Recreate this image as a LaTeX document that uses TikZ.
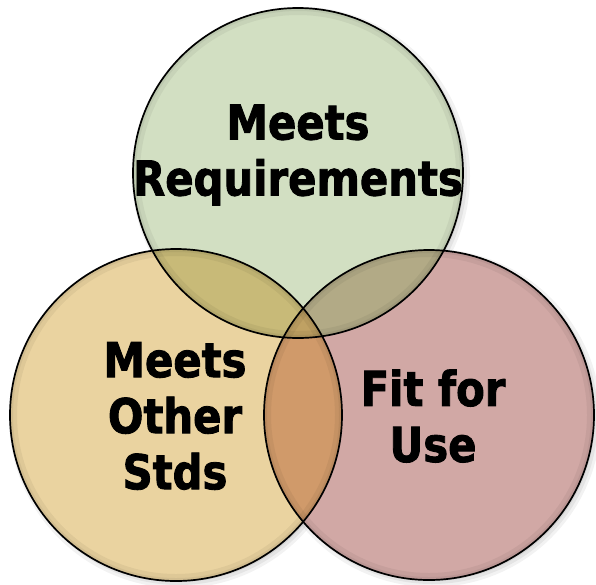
\documentclass[tikz,border=0pt]{standalone}
\usepackage{fontspec}
\newfontfamily\lblfont{DejaVu Sans Bold}[FakeStretch=0.87, FakeBold=1.8]
\definecolor{reqgreen}{HTML}{D2DFC2}
\definecolor{stdorange}{HTML}{EAD3A0}
\definecolor{userose}{HTML}{D1A8A5}
\definecolor{gomix}{HTML}{C8BA78}
\definecolor{grmix}{HTML}{B2AA86}
\definecolor{ormix}{HTML}{D09A6A}
\definecolor{allmix}{HTML}{BFA163}
\tikzset{
  x=1pt, y=-1pt,
  ring/.style={draw=black, line width=1.7pt},
  rim/.style={draw=black, opacity=0.05},
  label/.style={font=\lblfont\fontsize{48}{56}\selectfont,
    align=center, inner sep=0pt, text=black},
}
\begin{document}
\begin{tikzpicture}
  \useasboundingbox (0,0) rectangle (596,584);
  \coordinate (cT) at (298,173);
  \coordinate (cL) at (176,415);
  \coordinate (cR) at (429,415);
  \def\rT{165pt}\def\rL{166pt}\def\rR{165pt}

  % soft drop shadows
  \foreach \w/\o in {8/0.05,5/0.06,2/0.07}{
    \fill[black, opacity=\o] ([shift={(3,3)}]cT) circle[radius=\rT+\w pt-4pt];
    \fill[black, opacity=\o] ([shift={(3,3)}]cL) circle[radius=\rL+\w pt-4pt];
    \fill[black, opacity=\o] ([shift={(3,3)}]cR) circle[radius=\rR+\w pt-4pt];
  }

  % single regions
  \fill[reqgreen] (cT) circle[radius=\rT];
  \fill[stdorange] (cL) circle[radius=\rL];
  \fill[userose] (cR) circle[radius=\rR];

  % pairwise overlaps
  \begin{scope}
    \clip (cT) circle[radius=\rT];
    \fill[gomix] (cL) circle[radius=\rL];
    \fill[grmix] (cR) circle[radius=\rR];
  \end{scope}
  \begin{scope}
    \clip (cL) circle[radius=\rL];
    \fill[ormix] (cR) circle[radius=\rR];
    \clip (cR) circle[radius=\rR];
    \fill[allmix] (cT) circle[radius=\rT];
  \end{scope}

  % darker inner rims
  \foreach \c/\r in {cT/\rT,cL/\rL,cR/\rR}{
    \begin{scope}
      \clip (\c) circle[radius=\r];
      \draw[rim, line width=14pt] (\c) circle[radius=\r];
      \draw[rim, line width=6pt] (\c) circle[radius=\r];
    \end{scope}
  }

  % outlines
  \draw[ring] (cT) circle[radius=\rT];
  \draw[ring] (cL) circle[radius=\rL];
  \draw[ring] (cR) circle[radius=\rR];

  % labels
  \node[label] (req) at (298,155) {Meets\\Requirements};
  \node[label] (std) at (175,416) {Meets\\Other\\Stds};
  \node[label] (use) at (433,416) {Fit for\\Use};
\end{tikzpicture}
\end{document}
